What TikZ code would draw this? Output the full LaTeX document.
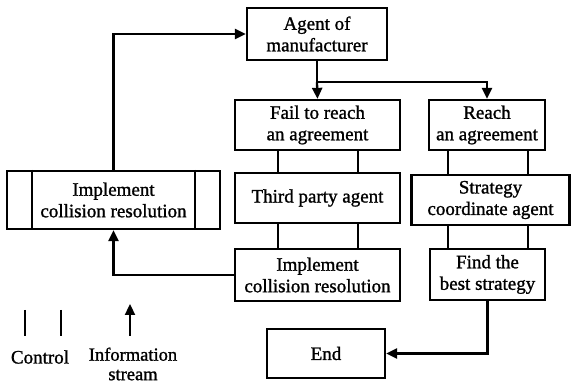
\documentclass[tikz,border=0pt]{standalone}
\usepackage{fontspec}
\setmainfont[FakeBold=1.2]{Liberation Serif}
\usetikzlibrary{arrows.meta,calc}
\begin{document}
\begin{tikzpicture}[x=1pt,y=-1pt,
  every node/.style={font=\fontsize{19}{21.5}\selectfont},
  box/.style={draw,line width=2.3pt,minimum width=#1,inner sep=0pt,align=center},
  ln/.style={line width=2.3pt},
  arr/.style={line width=2.3pt,-{Triangle[length=11pt,width=10pt]}}]
\useasboundingbox (0,0) rectangle (571,387);
\node[box=140pt,minimum height=52pt] (agent) at (317,34) {Agent of\\manufacturer};
\node[box=165pt,minimum height=50pt] (fail) at (317.5,125) {Fail to reach\\an agreement};
\node[box=116pt,minimum height=50pt] (reach) at (487,125) {Reach\\an agreement};
\node[box=165pt,minimum height=50pt] (third) at (317.5,198) {Third party agent};
\node[box=158pt,minimum height=50pt] (strat) at (490.5,200) {Strategy\\coordinate agent};
\node[box=165pt,minimum height=52pt] (impl) at (317.5,275) {Implement\\collision resolution};
\node[box=115pt,minimum height=51pt] (find) at (487.5,274.5) {Find the\\best strategy};
\node[box=118pt,minimum height=49pt] (endn) at (326,353.5) {End};
\node[box=213pt,minimum height=58pt] (left) at (113.5,200) {Implement\\collision resolution};
\draw[ln] ([xshift=26pt]left.north west) -- ([xshift=26pt]left.south west);
\draw[ln] ([xshift=-26pt]left.north east) -- ([xshift=-26pt]left.south east);
% control lines
\foreach \d in {-39.5,40.5}{
  \draw[ln] ([xshift=\d pt]fail.south) -- ([xshift=\d pt]third.north);
  \draw[ln] ([xshift=\d pt]third.south) -- ([xshift=\d pt]impl.north);
}
\foreach \d in {-39,41}{
  \draw[ln] ([xshift=\d pt]reach.south) -- ([xshift=\d pt]reach.south |- strat.north);
  \draw[ln] ([xshift=\d pt]reach.south |- strat.south) -- ([xshift=\d pt]reach.south |- find.north);
}
% information streams
\draw[ln] (agent.south) -- ++(0,21) coordinate (sp);
\draw[arr] (sp) -- (fail.north);
\draw[arr] (sp) -| (reach.north);
\draw[arr] (left.north) |- (agent.west);
\draw[arr] (impl.west) -| (left.south);
\draw[arr] (find.south) |- (endn.east);
% legend
\coordinate (c1a) at (25,310); \coordinate (c1b) at (25,336);
\coordinate (c2a) at (61,310); \coordinate (c2b) at (61,336);
\coordinate (ia) at (130,336); \coordinate (ib) at (130,304);
\draw[ln] (c1a) -- (c1b);
\draw[ln] (c2a) -- (c2b);
\draw[arr] (ia) -- (ib);
\node[inner sep=0pt] (lc) at (40,357) {Control};
\node[inner sep=0pt,align=center,font=\fontsize{18.5}{19.5}\selectfont] (li) at (133,364) {Information\\stream};
\end{tikzpicture}
\end{document}
